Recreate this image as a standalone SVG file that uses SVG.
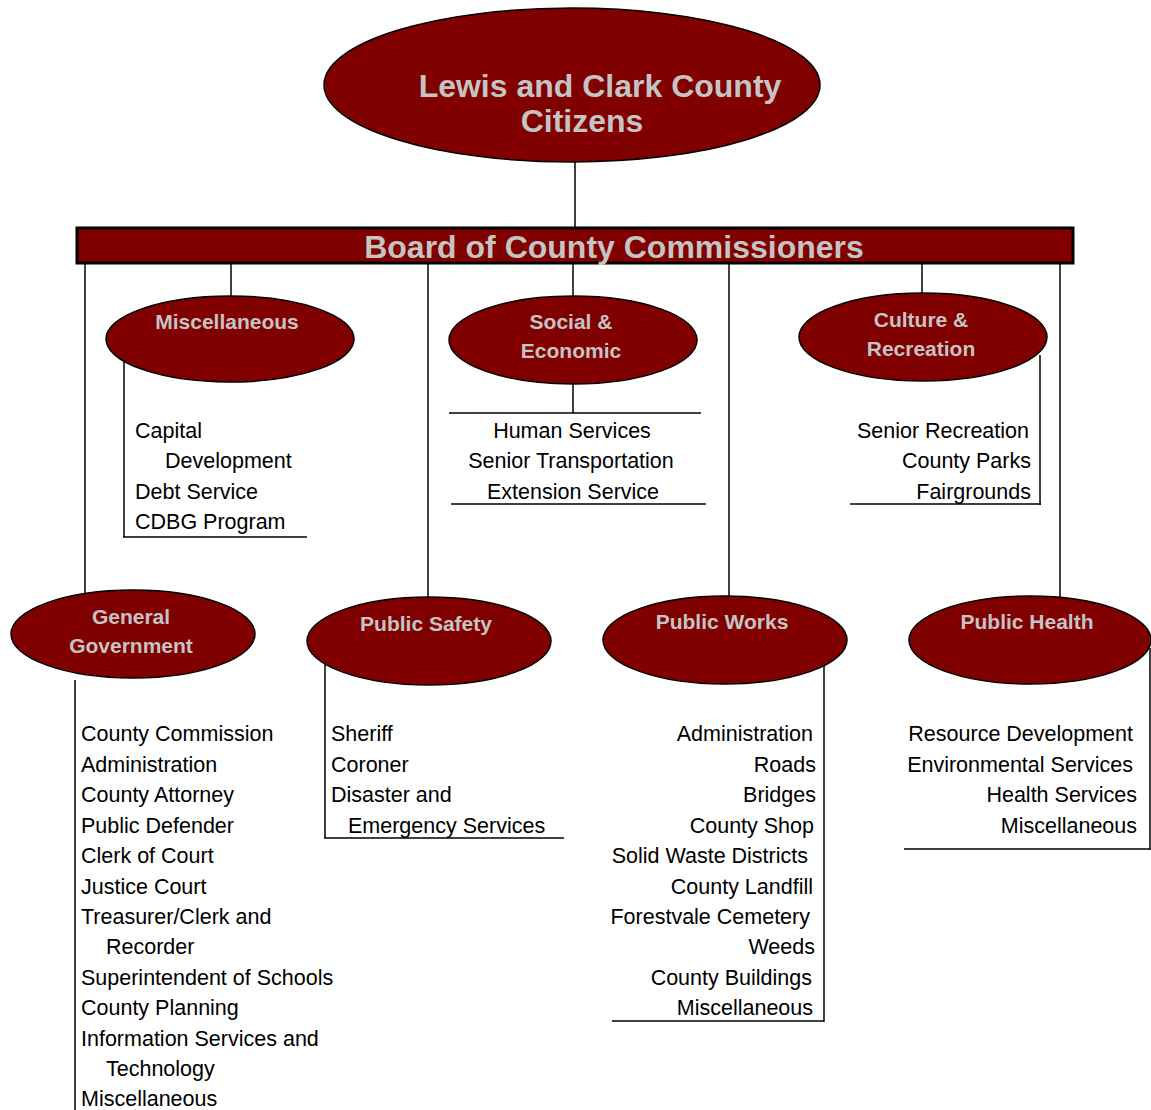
<svg xmlns="http://www.w3.org/2000/svg" width="1151" height="1110" viewBox="0 0 1151 1110">
<style>
.node{fill:#800000;stroke:#000;stroke-width:1.5}
.h{font-family:"Liberation Sans",Arial,sans-serif;font-weight:bold;fill:#c4c4c4;text-anchor:middle}
.h1{font-size:32px}
.h2{font-size:21px}
.t{font-family:"Liberation Sans",Arial,sans-serif;font-size:21.5px;fill:#000}
.m{text-anchor:middle}
.e{text-anchor:end}
.c line{stroke:#000;stroke-width:1.5}
</style>
<rect width="1151" height="1110" fill="#fff"/>
<g class="c" id="connectors">
<line x1="575" y1="162" x2="575" y2="227"/>
<line x1="85" y1="263" x2="85" y2="602"/>
<line x1="231" y1="263" x2="231" y2="296"/>
<line x1="428" y1="263" x2="428" y2="598"/>
<line x1="573" y1="263" x2="573" y2="296"/>
<line x1="729" y1="263" x2="729" y2="597"/>
<line x1="922" y1="263" x2="922" y2="293"/>
<line x1="1060" y1="263" x2="1060" y2="605"/>
</g>
<g id="citizens">
<ellipse class="node" cx="572" cy="85" rx="248" ry="77"/>
<text class="h h1" x="600" y="97">Lewis and Clark County</text>
<text class="h h1" x="582" y="132">Citizens</text>
</g>
<g id="board">
<rect x="77" y="228" width="996" height="35" fill="#800000" stroke="#000" stroke-width="3"/>
<text class="h h1" x="614" y="258">Board of County Commissioners</text>
</g>
<g id="miscellaneous">
<ellipse class="node" cx="230" cy="339" rx="124" ry="43"/>
<text class="h h2" x="227" y="329">Miscellaneous</text>
<g class="c"><line x1="124" y1="360" x2="124" y2="537"/><line x1="123" y1="537" x2="307" y2="537"/></g>
<text class="t" x="135" y="438">Capital</text>
<text class="t" x="165" y="468">Development</text>
<text class="t" x="135" y="499">Debt Service</text>
<text class="t" x="135" y="529">CDBG Program</text>
</g>
<g id="social">
<ellipse class="node" cx="573" cy="340" rx="124" ry="44"/>
<text class="h h2" x="571" y="329">Social &amp;</text>
<text class="h h2" x="571" y="358">Economic</text>
<g class="c"><line x1="573" y1="384" x2="573" y2="413"/><line x1="449" y1="413" x2="701" y2="413"/><line x1="451" y1="504" x2="706" y2="504"/></g>
<text class="t m" x="572" y="438">Human Services</text>
<text class="t m" x="571" y="468">Senior Transportation</text>
<text class="t m" x="573" y="499">Extension Service</text>
</g>
<g id="culture">
<ellipse class="node" cx="923" cy="337" rx="124" ry="44"/>
<text class="h h2" x="921" y="327">Culture &amp;</text>
<text class="h h2" x="921" y="356">Recreation</text>
<g class="c"><line x1="1040" y1="355" x2="1040" y2="505"/><line x1="850" y1="504" x2="1041" y2="504"/></g>
<text class="t e" x="1029" y="438">Senior Recreation</text>
<text class="t e" x="1031" y="468">County Parks</text>
<text class="t e" x="1031" y="499">Fairgrounds</text>
</g>
<g id="general">
<ellipse class="node" cx="133" cy="634" rx="122" ry="44"/>
<text class="h h2" x="131" y="624">General</text>
<text class="h h2" x="131" y="653">Government</text>
<g class="c"><line x1="75" y1="680" x2="75" y2="1110"/></g>
<text class="t" x="81" y="741">County Commission</text>
<text class="t" x="81" y="772">Administration</text>
<text class="t" x="81" y="802">County Attorney</text>
<text class="t" x="81" y="833">Public Defender</text>
<text class="t" x="81" y="863">Clerk of Court</text>
<text class="t" x="81" y="894">Justice Court</text>
<text class="t" x="81" y="924">Treasurer/Clerk and</text>
<text class="t" x="106" y="954">Recorder</text>
<text class="t" x="81" y="985">Superintendent of Schools</text>
<text class="t" x="81" y="1015">County Planning</text>
<text class="t" x="81" y="1046">Information Services and</text>
<text class="t" x="106" y="1076">Technology</text>
<text class="t" x="81" y="1106">Miscellaneous</text>
</g>
<g id="publicsafety">
<ellipse class="node" cx="429" cy="641" rx="122" ry="44"/>
<text class="h h2" x="426" y="631">Public Safety</text>
<g class="c"><line x1="325" y1="664" x2="325" y2="838"/><line x1="324" y1="838" x2="564" y2="838"/></g>
<text class="t" x="331" y="741">Sheriff</text>
<text class="t" x="331" y="772">Coroner</text>
<text class="t" x="331" y="802">Disaster and</text>
<text class="t" x="348" y="833">Emergency Services</text>
</g>
<g id="publicworks">
<ellipse class="node" cx="725" cy="640" rx="122" ry="44"/>
<text class="h h2" x="722" y="629">Public Works</text>
<g class="c"><line x1="824" y1="665" x2="824" y2="1022"/><line x1="612" y1="1021" x2="824" y2="1021"/></g>
<text class="t e" x="813" y="741">Administration</text>
<text class="t e" x="816" y="772">Roads</text>
<text class="t e" x="816" y="802">Bridges</text>
<text class="t e" x="814" y="833">County Shop</text>
<text class="t e" x="808" y="863">Solid Waste Districts</text>
<text class="t e" x="813" y="894">County Landfill</text>
<text class="t e" x="810" y="924">Forestvale Cemetery</text>
<text class="t e" x="815" y="954">Weeds</text>
<text class="t e" x="812" y="985">County Buildings</text>
<text class="t e" x="813" y="1015">Miscellaneous</text>
</g>
<g id="publichealth">
<ellipse class="node" cx="1030" cy="640" rx="121" ry="44"/>
<text class="h h2" x="1027" y="629">Public Health</text>
<g class="c"><line x1="1150" y1="648" x2="1150" y2="850"/><line x1="904" y1="849" x2="1150" y2="849"/></g>
<text class="t e" x="1133" y="741">Resource Development</text>
<text class="t e" x="1133" y="772">Environmental Services</text>
<text class="t e" x="1137" y="802">Health Services</text>
<text class="t e" x="1137" y="833">Miscellaneous</text>
</g>
</svg>
